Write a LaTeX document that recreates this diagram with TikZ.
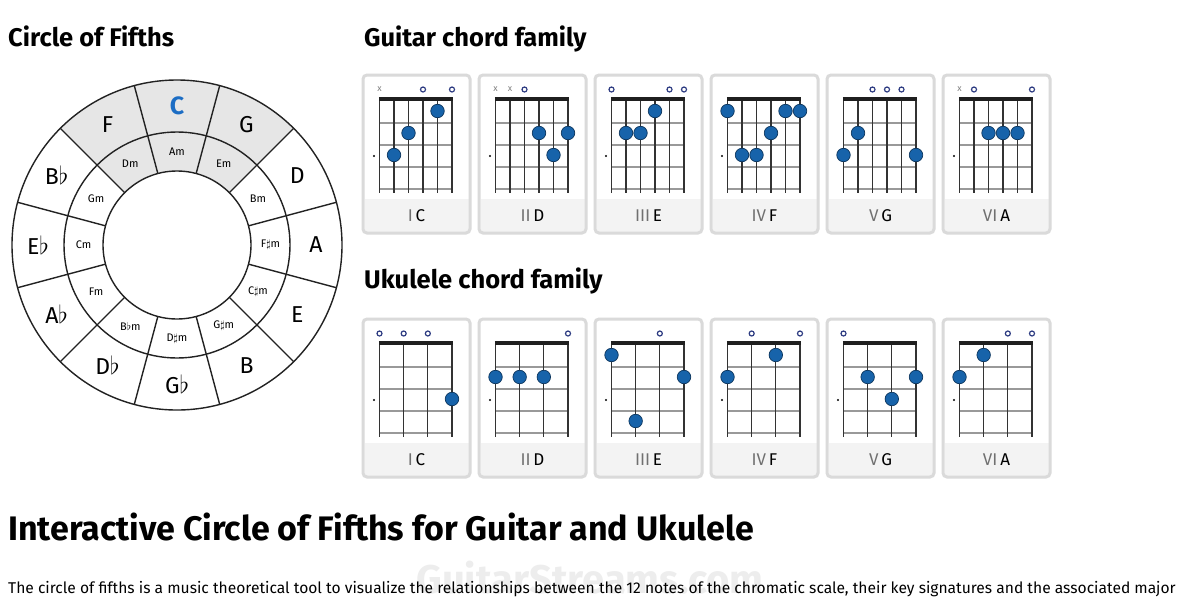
\documentclass[tikz,border=0pt]{standalone}
\usepackage{fontspec}
\setmainfont{Fira Sans}
\definecolor{fingblue}{HTML}{1763AA}
\definecolor{keyblue}{HTML}{1C6DC4}
\definecolor{hilite}{HTML}{E6E6E6}
\definecolor{boxrim}{HTML}{DADADA}
\definecolor{boxfoot}{HTML}{F3F3F3}
\definecolor{openblue}{HTML}{2E3C82}
\definecolor{numgray}{HTML}{707070}
\definecolor{ringline}{HTML}{222222}

% string spacing of the current instrument
\newcommand{\strsp}{14.5}

% one chord card, drawn inside a scope shifted to its top left corner
\newcommand{\chordcard}[3]{%
  \fill[boxfoot] (1.5,124) rectangle (105.5,156.5);
  \draw[cardrim] (0,0) rectangle (107,158);
  \foreach \f in {48,70,92,114} \draw[fretline] (16.5,\f) -- (89,\f);
  \foreach \s in {1,...,#2} \draw[stringline] ({16.5+(\s-1)*\strsp},24) -- ({16.5+(\s-1)*\strsp},118);
  \draw[nutline] (15.8,24) -- (89.7,24);
  \node[posdot] (#1mark) at (11,81) {};
  \node[cardlabel] (#1lbl) at (53.5,141) {#3};
}
\newcommand{\fingdot}[3]{\node[fing] (#1) at ({16.5+(#2-1)*\strsp},{14+22*#3}) {};}
\newcommand{\opendot}[2]{\node[openmk] (#1) at ({16.5+(#2-1)*\strsp},14.5) {};}
\newcommand{\mutedot}[2]{\node[mutemk] (#1) at ({16.5+(#2-1)*\strsp},14.5) {x};}

\begin{document}
\begin{tikzpicture}[x=1pt,y=-1pt,
    ring/.style={draw=ringline, line width=1.4},
    majkey/.style={font=\fontsize{23}{23}\selectfont},
    minkey/.style={font=\fontsize{11}{11}\selectfont},
    title/.style={anchor=base west, inner sep=0, font=\fontsize{25.5}{25.5}\selectfont\bfseries},
    cardrim/.style={draw=boxrim, line width=3, rounded corners=4},
    fretline/.style={draw=black!40, line width=1.8},
    stringline/.style={draw=black!80, line width=1.3},
    nutline/.style={draw=black!88, line width=4},
    posdot/.style={circle, fill=black, minimum size=2.4, inner sep=0},
    cardlabel/.style={font=\fontsize{17}{17}\selectfont},
    fing/.style={circle, fill=fingblue, draw=fingblue!55!black, line width=0.7, minimum size=13.5, inner sep=0},
    openmk/.style={circle, draw=openblue, line width=1.2, minimum size=5, inner sep=0},
    mutemk/.style={text=black!50, font=\fontsize{9}{9}\selectfont, inner sep=0}]
\fill[white] (0,0) rectangle (1200,600);
\useasboundingbox (0,0) rectangle (1200,600);

% titles
\node[title] (cftitle) at (8,46.5) {Circle of Fifths};
\node[title] (gtitle) at (364,46.5) {Guitar chord family};
\node[title] (utitle) at (364,288.5) {Ukulele chord family};

% circle of fifths
\begin{scope}[shift={(177,245)}, yscale=-1]
  \fill[hilite] (45:165) arc[start angle=45, end angle=135, radius=165] -- (135:74) arc[start angle=135, end angle=45, radius=74] -- cycle;
  \draw[ring] (0,0) circle[radius=165];
  \draw[ring] (0,0) circle[radius=113];
  \draw[ring] (0,0) circle[radius=74];
  \foreach \a in {15,45,...,345} \draw[ring] (\a:74) -- (\a:165);
  \node[majkey, text=keyblue, font=\fontsize{25}{25}\selectfont\bfseries] (kC) at (90:139) {C};
  \node[majkey] (kG) at (60:139) {G};
  \node[majkey] (kD) at (30:139) {D};
  \node[majkey] (kA) at (0:139) {A};
  \node[majkey] (kE) at (-30:139) {E};
  \node[majkey] (kB) at (-60:139) {B};
  \node[majkey] (kGb) at (-90:139) {G$\flat$};
  \node[majkey] (kDb) at (-120:139) {D$\flat$};
  \node[majkey] (kAb) at (-150:139) {A$\flat$};
  \node[majkey] (kEb) at (180:139) {E$\flat$};
  \node[majkey] (kBb) at (150:139) {B$\flat$};
  \node[majkey] (kF) at (120:139) {F};
  \node[minkey] (mA) at (90:93.5) {Am};
  \node[minkey] (mE) at (60:93.5) {Em};
  \node[minkey] (mB) at (30:93.5) {Bm};
  \node[minkey] (mFs) at (0:93.5) {F$\sharp$m};
  \node[minkey] (mCs) at (-30:93.5) {C$\sharp$m};
  \node[minkey] (mGs) at (-60:93.5) {G$\sharp$m};
  \node[minkey] (mDs) at (-90:93.5) {D$\sharp$m};
  \node[minkey] (mBb) at (-120:93.5) {B$\flat$m};
  \node[minkey] (mF) at (-150:93.5) {Fm};
  \node[minkey] (mC) at (180:93.5) {Cm};
  \node[minkey] (mG) at (150:93.5) {Gm};
  \node[minkey] (mD) at (120:93.5) {Dm};
\end{scope}

% guitar chord family
\renewcommand{\strsp}{14.5}
\begin{scope}[shift={(363,75)}]
  \chordcard{gC}{6}{{\color{numgray}I}\,C}
  \mutedot{gCx1}{1} \opendot{gCo4}{4} \opendot{gCo6}{6}
  \fingdot{gC2}{2}{3} \fingdot{gC3}{3}{2} \fingdot{gC5}{5}{1}
\end{scope}
\begin{scope}[shift={(479,75)}]
  \chordcard{gD}{6}{{\color{numgray}II}\,D}
  \mutedot{gDx1}{1} \mutedot{gDx2}{2} \opendot{gDo3}{3}
  \fingdot{gD4}{4}{2} \fingdot{gD6}{6}{2} \fingdot{gD5}{5}{3}
\end{scope}
\begin{scope}[shift={(595,75)}]
  \chordcard{gE}{6}{{\color{numgray}III}\,E}
  \opendot{gEo1}{1} \opendot{gEo5}{5} \opendot{gEo6}{6}
  \fingdot{gE2}{2}{2} \fingdot{gE3}{3}{2} \fingdot{gE4}{4}{1}
\end{scope}
\begin{scope}[shift={(711,75)}]
  \chordcard{gF}{6}{{\color{numgray}IV}\,F}
  \fingdot{gF1}{1}{1} \fingdot{gF5}{5}{1} \fingdot{gF6}{6}{1}
  \fingdot{gF4}{4}{2} \fingdot{gF2}{2}{3} \fingdot{gF3}{3}{3}
\end{scope}
\begin{scope}[shift={(827,75)}]
  \chordcard{gG}{6}{{\color{numgray}V}\,G}
  \opendot{gGo3}{3} \opendot{gGo4}{4} \opendot{gGo5}{5}
  \fingdot{gG2}{2}{2} \fingdot{gG1}{1}{3} \fingdot{gG6}{6}{3}
\end{scope}
\begin{scope}[shift={(943,75)}]
  \chordcard{gA}{6}{{\color{numgray}VI}\,A}
  \mutedot{gAx1}{1} \opendot{gAo2}{2} \opendot{gAo6}{6}
  \fingdot{gA3}{3}{2} \fingdot{gA4}{4}{2} \fingdot{gA5}{5}{2}
\end{scope}

% ukulele chord family
\renewcommand{\strsp}{24.1667}
\begin{scope}[shift={(363,319)}]
  \chordcard{uC}{4}{{\color{numgray}I}\,C}
  \opendot{uCo1}{1} \opendot{uCo2}{2} \opendot{uCo3}{3}
  \fingdot{uC4}{4}{3}
\end{scope}
\begin{scope}[shift={(479,319)}]
  \chordcard{uD}{4}{{\color{numgray}II}\,D}
  \opendot{uDo4}{4}
  \fingdot{uD1}{1}{2} \fingdot{uD2}{2}{2} \fingdot{uD3}{3}{2}
\end{scope}
\begin{scope}[shift={(595,319)}]
  \chordcard{uE}{4}{{\color{numgray}III}\,E}
  \opendot{uEo3}{3}
  \fingdot{uE1}{1}{1} \fingdot{uE4}{4}{2} \fingdot{uE2}{2}{4}
\end{scope}
\begin{scope}[shift={(711,319)}]
  \chordcard{uF}{4}{{\color{numgray}IV}\,F}
  \opendot{uFo2}{2} \opendot{uFo4}{4}
  \fingdot{uF1}{1}{2} \fingdot{uF3}{3}{1}
\end{scope}
\begin{scope}[shift={(827,319)}]
  \chordcard{uG}{4}{{\color{numgray}V}\,G}
  \opendot{uGo1}{1}
  \fingdot{uG2}{2}{2} \fingdot{uG3}{3}{3} \fingdot{uG4}{4}{2}
\end{scope}
\begin{scope}[shift={(943,319)}]
  \chordcard{uA}{4}{{\color{numgray}VI}\,A}
  \opendot{uAo3}{3} \opendot{uAo4}{4}
  \fingdot{uA1}{1}{2} \fingdot{uA2}{2}{1}
\end{scope}

% page text
\node[anchor=base west, inner sep=0, font=\fontsize{34}{34}\selectfont\bfseries] (heading) at (8,540) {Interactive Circle of Fifths for Guitar and Ukulele};
\node[text=black!7, font=\fontsize{40}{40}\selectfont\bfseries] (wmark) at (590,578) {GuitarStreams.com};
\node[anchor=base west, inner sep=0, font=\fontsize{15.6}{15.6}\selectfont] (intro) at (8,593) {The circle of fifths is a music theoretical tool to visualize the relationships between the 12 notes of the chromatic scale, their key signatures and the associated major};
\end{tikzpicture}
\end{document}
